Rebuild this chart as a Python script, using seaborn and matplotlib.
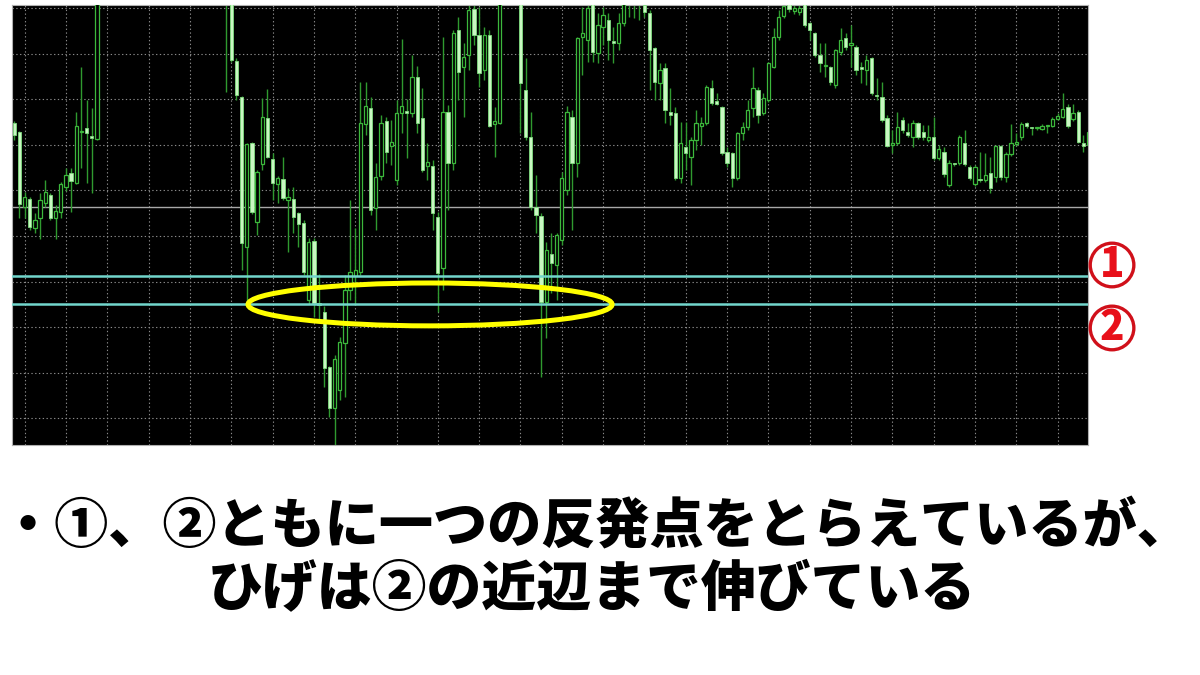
import numpy as np
import matplotlib
matplotlib.use("Agg")
import matplotlib.pyplot as plt
from matplotlib.patches import Ellipse
import seaborn as sns

# candle OHLC (price in grid units, one grid cell = 10)
# None = bar is completely above the visible window
open_ = [74.8, 72.8, 56.4, 58.1, 51.8, 53.9, 57.2, 59.0, 53.9, 55.3,
         60.7, 63.8, 61.6, 72.8, 73.7, 71.9, 71.3] + [None] * 24 + [
         104.0, 103.0, 88.4, 80.5, 47.6, 70.4, 53.1, 65.8, 75.9,
         66.9, 61.4, 62.5, 57.9, 58.1, 55.0, 52.9, 36.0, 48.9, 35.3,
         33.3, 21.3, 12.3, 16.2, 26.5, 38.2, 41.2, 42.1, 74.6, 78.1,
         56.1, 63.2, 75.2, 69.7, 62.3, 77.0, 77.4, 77.0, 84.9, 75.9,
         65.4, 65.4, 54.2, 43.0, 77.2, 66.0, 95.2, 87.1, 89.7, 99.8,
         94.1, 86.4, 94.1, 74.6, 74.8, None, None, None, 103.0, 82.0,
         71.7, 56.4, 54.4, 35.5, 46.1, 43.6, 49.1, 60.1, 76.1, 66.0,
         93.6, 93.0, 101.5, 90.1, 95.8, 97.4, 92.8, 92.3, 96.7, 102.0,
         101.5, 102.0, 100.7, 98.9, 91.2, 83.6, 86.8, 77.2, 77.0, 62.7,
         69.5, 67.3, 71.1, 74.1, 74.8, 82.5, 79.6, 78.3, 68.4, 68.2,
         62.7, 72.6, 73.9, 78.1, 82.0, 77.0, 79.8, 87.1, 93.6, 98.2,
         100.9, 99.3, 99.1, 101.0, 96.7, 94.5, 89.7, 87.3, 87.1, 83.1,
         90.4, 93.4, 91.9, 91.4, 87.1, 86.4, 89.0, 80.9, 80.5, 75.9,
         70.0, 70.4, 75.4, 72.8, 71.7, 74.8, 72.8, 71.1, 71.7, 67.1,
         68.4, 61.2, 65.8, 66.0, 70.4, 65.1, 61.4, 62.3, 62.3, 63.8,
         62.9, 69.7, 62.9, 68.0, 70.2, 71.7, 74.8, 73.7, 73.7, 73.5,
         74.1, 74.1, 75.7, 76.1, 78.3, 75.7, 77.2, 70.4, 70.0]
high = [75.2, 73.0, 59.6, 58.6, 55.0, 59.4, 62.3, 59.4, 56.8, 61.8,
        64.9, 64.9, 77.2, 87.1, 79.8, 78.1, 104.0] + [None] * 24 + [
        105.0, 104.0, 89.0, 80.7, 70.4, 70.6, 64.5, 80.3, 82.2,
        68.2, 63.2, 67.3, 60.5, 60.7, 55.3, 53.5, 49.6, 49.6, 41.7,
        34.6, 21.5, 23.9, 27.9, 41.4, 57.9, 51.8, 83.8, 83.8, 80.5,
        66.0, 76.5, 76.1, 75.4, 79.8, 93.2, 80.0, 89.7, 87.3, 82.5,
        70.4, 66.7, 55.3, 93.6, 78.7, 95.2, 98.0, 92.3, 101.1, 100.7,
        100.2, 95.8, 95.2, 78.3, 103.0, None, None, None, 104.0, 89.0,
        77.2, 63.4, 55.0, 48.7, 50.7, 50.7, 64.0, 78.5, 77.6, 93.6,
        100.2, 101.5, 102.0, 98.9, 100.2, 98.9, 95.8, 98.9, 101.5, 103.0,
        103.0, 103.0, 101.5, 99.6, 91.4, 87.9, 87.9, 82.5, 78.3, 75.0,
        75.0, 71.7, 77.6, 76.1, 83.1, 84.2, 81.4, 78.5, 69.5, 68.4,
        72.8, 75.0, 79.8, 87.1, 82.7, 81.4, 88.2, 95.6, 99.6, 101.5,
        101.5, 101.0, 101.0, 101.5, 96.9, 94.7, 92.3, 92.3, 87.3, 91.0,
        95.6, 94.5, 96.3, 91.9, 88.2, 89.7, 89.3, 84.6, 83.8, 76.5,
        73.2, 77.2, 76.1, 74.8, 75.4, 75.0, 74.3, 74.3, 76.1, 70.0,
        69.5, 66.7, 66.0, 72.1, 73.2, 65.6, 65.6, 68.4, 68.2, 67.3,
        70.0, 70.0, 68.4, 74.6, 72.6, 75.0, 75.0, 73.9, 73.9, 74.6,
        74.3, 76.1, 77.0, 81.4, 78.9, 78.9, 77.6, 72.1, 73.2]
low = [71.1, 53.9, 53.9, 51.3, 50.7, 49.3, 56.4, 53.5, 49.3, 53.9,
       59.9, 55.3, 61.4, 64.9, 61.6, 59.4, 71.0] + [None] * 24 + [
       81.6, 88.2, 79.8, 42.5, 35.5, 54.8, 50.2, 64.5, 67.1,
       57.9, 57.2, 57.9, 46.5, 50.7, 47.6, 41.4, 35.1, 32.2, 31.6,
       16.9, 10.3, 3.7, 14.0, 14.7, 36.0, 34.9, 41.4, 72.1, 54.6,
       51.3, 62.3, 66.0, 65.6, 61.2, 72.6, 67.1, 76.1, 72.6, 64.0,
       62.3, 51.3, 33.3, 38.2, 55.7, 64.5, 79.8, 76.1, 86.4, 91.9,
       82.7, 84.2, 73.9, 67.3, 74.6, None, None, None, 72.6, 71.1,
       55.7, 50.7, 19.1, 27.6, 37.5, 36.0, 48.0, 59.0, 51.3, 62.9,
       85.3, 88.2, 88.2, 87.9, 91.9, 88.6, 87.9, 90.8, 96.1, 98.0,
       97.8, 97.4, 98.0, 82.0, 79.8, 79.8, 74.8, 74.3, 62.3, 61.6,
       64.5, 61.2, 68.9, 70.0, 74.3, 78.7, 78.7, 67.8, 65.1, 60.7,
       62.3, 71.1, 73.2, 76.1, 74.8, 76.5, 79.4, 86.8, 93.0, 97.8,
       99.1, 98.7, 98.5, 95.8, 93.0, 89.3, 86.0, 84.9, 83.1, 82.5,
       89.7, 90.8, 87.1, 85.3, 83.6, 83.1, 80.9, 79.8, 75.0, 69.5,
       68.2, 70.0, 72.6, 71.7, 69.5, 71.3, 71.1, 70.6, 66.7, 66.7,
       62.9, 60.7, 65.4, 65.6, 65.4, 62.3, 61.0, 61.8, 61.8, 59.4,
       61.8, 62.3, 61.8, 67.5, 69.7, 71.1, 73.7, 72.1, 73.2, 73.2,
       72.6, 73.9, 75.4, 75.9, 73.7, 75.2, 70.4, 68.4, 69.5]
close = [72.1, 57.0, 58.6, 52.0, 53.5, 57.9, 59.6, 53.9, 55.5, 61.4,
         63.4, 62.1, 74.1, 72.9, 72.6, 71.5, 103.0] + [None] * 24 + [
         102.0, 88.6, 80.9, 48.5, 70.2, 55.3, 64.0, 76.1, 67.3,
         61.6, 62.7, 58.3, 58.6, 54.2, 52.6, 42.1, 48.7, 35.3, 34.9,
         21.1, 12.3, 23.0, 26.8, 38.2, 42.1, 42.5, 74.8, 78.5, 55.7,
         62.9, 74.8, 68.4, 70.6, 77.0, 78.5, 77.0, 84.9, 74.8, 64.5,
         66.2, 55.0, 41.9, 77.2, 66.0, 94.5, 86.0, 89.3, 99.6, 94.1,
         85.7, 94.1, 74.1, 75.2, 101.5, None, None, None, 83.6, 71.7,
         56.4, 54.6, 35.5, 46.9, 44.1, 50.2, 62.7, 77.2, 66.0, 93.4,
         94.5, 100.0, 90.4, 96.3, 98.5, 93.0, 92.3, 96.7, 100.9, 101.5,
         102.5, 101.2, 99.1, 90.8, 83.8, 86.4, 77.6, 76.5, 62.7, 70.4,
         68.2, 71.1, 74.8, 74.8, 82.7, 79.2, 78.9, 68.2, 66.0, 62.7,
         72.6, 73.9, 77.6, 82.5, 76.5, 80.3, 87.9, 93.6, 98.0, 100.4,
         99.8, 100.0, 100.0, 96.3, 95.2, 89.7, 87.9, 87.5, 83.8, 90.8,
         93.0, 91.4, 92.3, 86.4, 86.6, 88.6, 81.4, 80.7, 75.4, 69.7,
         70.4, 73.9, 73.2, 72.1, 74.8, 71.7, 71.7, 71.7, 67.1, 69.1,
         63.6, 66.0, 65.7, 71.7, 65.8, 62.7, 65.1, 62.2, 63.4, 60.5,
         69.7, 62.9, 68.0, 70.4, 70.6, 74.6, 74.1, 73.6, 73.8, 74.1,
         74.2, 75.7, 76.3, 77.9, 74.1, 77.0, 70.6, 69.7, 72.8]

# horizontal levels
line_1 = 41.3      # upper support line (1)
line_2 = 35.0      # lower support line (2)
ref_line = 56.4    # gray price line

line1_text = "・①、②ともに一つの反発点をとらえているが、"
line2_text = "ひげは②の近辺まで伸びている"

sns.set_theme(style="dark", rc={"axes.facecolor": "black",
                                "figure.facecolor": "white"})
plt.rcParams['font.family'] = ['Noto Sans CJK JP', 'DejaVu Sans']

o = np.array([np.nan if v is None else v for v in open_])
h = np.array([np.nan if v is None else v for v in high])
l = np.array([np.nan if v is None else v for v in low])
c = np.array([np.nan if v is None else v for v in close])
x = np.arange(len(o))
ok = ~np.isnan(o)

fig = plt.figure(figsize=(12, 6.75), dpi=100)
ax = fig.add_axes([0.01, 0.3407, 0.8967, 0.6519])
ax.set_facecolor("black")

ax.vlines(x[ok], l[ok], h[ok], color="#2f9a2f", lw=1.0, zorder=2)

up = ok & (c >= o)
dn = ok & (c < o)
bh = np.maximum(np.abs(c - o), 0.3)
bb = np.minimum(o, c)
ax.bar(x[up], bh[up], bottom=bb[up], width=0.64, color="black",
       edgecolor="#3cb83c", linewidth=0.9, zorder=3)
ax.bar(x[dn], bh[dn], bottom=bb[dn], width=0.64, color="#c9f7c2",
       edgecolor="#7fdc7f", linewidth=0.6, zorder=3)

ax.axhline(ref_line, color="#a8a8a8", lw=1.0, zorder=1)
ax.axhline(line_1, color="#72d6cc", lw=1.8, zorder=4)
ax.axhline(line_2, color="#72d6cc", lw=1.8, zorder=4)

ax.add_patch(Ellipse((80.5, 35.0), width=70.5, height=9.4, fill=False,
                     edgecolor="#ffff00", lw=3.6, zorder=5))

ax.set_xlim(-0.45, 207.9)
ax.set_ylim(4.17, 100.66)
ax.set_xticks(np.arange(2, 209, 8))
ax.set_yticks(np.arange(10, 101, 10))
ax.grid(True, color="#8a8a8a", linestyle=(0, (1.2, 2.2)), linewidth=0.8)
ax.set_axisbelow(True)
ax.tick_params(length=0, labelbottom=False, labelleft=False)
for s in ax.spines.values():
    s.set_color("#b0b0b0")
    s.set_linewidth(0.8)

# circled markers for the two lines
for yy, num in [(0.6074, "1"), (0.5141, "2")]:
    fig.text(0.9267, yy, num, color="#e8101a", fontsize=29,
             fontweight="heavy", ha="center", va="center",
             bbox=dict(boxstyle="circle,pad=0.02", fc="white",
                       ec="#d0101a", lw=2.4))

fig.text(0.4967, 0.2193, line1_text, color="black", fontsize=39,
         fontweight="heavy", ha="center", va="center")
fig.text(0.493, 0.1259, line2_text, color="black", fontsize=39.5,
         fontweight="heavy", ha="center", va="center")

fig.savefig("out.png", dpi=100)
